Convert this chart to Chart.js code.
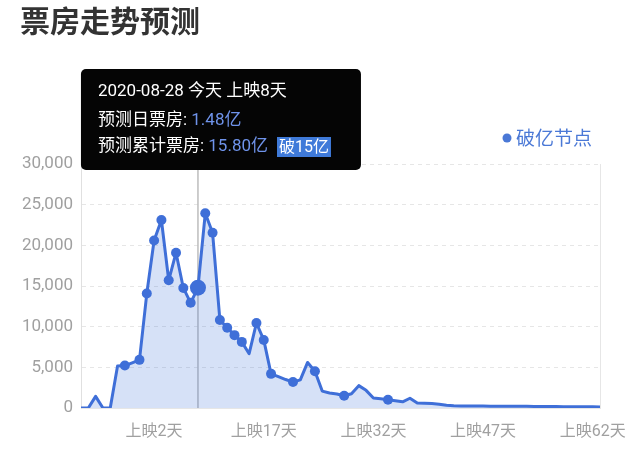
<!DOCTYPE html>
<html><head><meta charset="utf-8">
<script src="https://cdn.jsdelivr.net/npm/chart.js@4.4.1/dist/chart.umd.min.js"></script>
<style>html,body{margin:0;padding:0;background:#fff}#wrap{width:640px;height:449px;position:relative}</style>
</head><body><div id="wrap"><canvas id="c" width="640" height="449"></canvas></div>
<script>
// ---- data ----
const chartTitle = '票房走势预测';
const legendLabel = '破亿节点';
const startDate = '2020-08-12';
const preReleaseDays = 9;
const boxOffice = [
  0, 0, 1430, 0, 0, 5150, 5220, 5560, 5920, 14070,
  20600, 23120, 15700, 19090, 14760, 12930, 14800, 23940, 21540, 10820,
  9860, 8960, 8130, 6680, 10450, 8370, 4200, 3850, 3500, 3190,
  3460, 5600, 4520, 2080, 1840, 1720, 1510, 1760, 2750, 2170,
  1230, 1130, 1020, 880, 760, 1200, 610, 590, 540, 470,
  330, 280, 260, 250, 240, 240, 230, 220, 220, 210,
  200, 200, 190, 180, 180, 170, 160, 160, 150, 150,
  140, 130
];
const milestoneIdx = [6, 8, 9, 10, 11, 12, 13, 14, 15, 16, 17, 18, 19, 20, 21, 22, 24, 25, 26, 29, 32, 36, 42];
const todayIdx = 16;
const yTickValues = [0, 5000, 10000, 15000, 20000, 25000, 30000];
const xTickLabels = ['上映2天', '上映17天', '上映32天', '上映47天', '上映62天'];
const tipDate = '2020-08-28';
const tipToday = '今天';
const tipDaily = '1.48亿';
const tipTotal = '15.80亿';
const tipBadge = '破15亿';

// categories: preview dates, then 上映N天
const categories = [];
{
  const d0 = new Date(startDate + 'T00:00:00Z');
  for (let i = 0; i < boxOffice.length; i++) {
    if (i < preReleaseDays) {
      const d = new Date(d0.getTime() + i * 86400000);
      categories.push(d.toISOString().slice(5, 10));
    } else {
      categories.push('上映' + (i - preReleaseDays + 1) + '天');
    }
  }
}

const LINE = '#3f6fd8';
const FAM = "Roboto, 'Noto Sans CJK SC', sans-serif";
const CJK = "'Noto Sans CJK SC', Roboto, sans-serif";
Chart.defaults.font.family = FAM;

const radii = boxOffice.map((v, i) => i === todayIdx ? 8 : (milestoneIdx.includes(i) ? 5 : 0));

const overlay = {
  id: 'overlay',
  beforeDatasetsDraw(chart) {
    const ctx = chart.ctx, ca = chart.chartArea;
    const x = chart.scales.x.getPixelForValue(todayIdx);
    ctx.save();
    ctx.strokeStyle = '#bdbdbd';
    ctx.lineWidth = 1.5;
    ctx.beginPath(); ctx.moveTo(x, 170); ctx.lineTo(x, ca.bottom); ctx.stroke();
    ctx.strokeStyle = '#e6e6e6'; ctx.lineWidth = 1;
    ctx.beginPath(); ctx.moveTo(ca.right + 0.5, ca.top); ctx.lineTo(ca.right + 0.5, ca.bottom); ctx.stroke();
    ctx.restore();
  },
  afterDraw(chart) {
    const ctx = chart.ctx;
    ctx.save();
    // title
    ctx.fillStyle = '#333';
    ctx.font = "bold 30px " + CJK;
    ctx.textBaseline = 'middle';
    ctx.textAlign = 'left';
    ctx.fillText(chartTitle, 20, 21);
    // legend
    ctx.fillStyle = '#4a78d6';
    ctx.beginPath(); ctx.arc(507, 138, 4.5, 0, Math.PI * 2); ctx.fill();
    ctx.font = "19px " + CJK;
    ctx.fillText(legendLabel, 516, 138);
    // tooltip
    const px = chart.scales.x.getPixelForValue(todayIdx);
    const bx = px - 117, by = 69, bw = 280, bh = 101;
    ctx.fillStyle = '#050505';
    ctx.beginPath();
    if (ctx.roundRect) ctx.roundRect(bx, by, bw, bh, 5); else ctx.rect(bx, by, bw, bh);
    ctx.fill();
    const tx = bx + 17;
    ctx.font = "17px " + FAM;
    ctx.fillStyle = '#ffffff';
    ctx.fillText(tipDate + ' ' + tipToday + ' ' + categories[todayIdx], tx, 92);
    let s = '预测日票房: ';
    ctx.fillText(s, tx, 121);
    ctx.fillStyle = '#6f93ea';
    ctx.fillText(tipDaily, tx + ctx.measureText(s).width, 121);
    ctx.fillStyle = '#ffffff';
    s = '预测累计票房: ';
    ctx.fillText(s, tx, 147);
    let w = ctx.measureText(s).width;
    ctx.fillStyle = '#6f93ea';
    ctx.fillText(tipTotal, tx + w, 147);
    w += ctx.measureText(tipTotal).width + 9;
    ctx.font = "16px " + FAM;
    const bw2 = ctx.measureText(tipBadge).width + 4;
    ctx.fillStyle = '#3f7ad9';
    ctx.fillRect(tx + w, 137, bw2, 20);
    ctx.fillStyle = '#ffffff';
    ctx.fillText(tipBadge, tx + w + 2, 147.5);
    ctx.restore();
  }
};

new Chart(document.getElementById('c'), {
  type: 'line',
  data: {
    labels: categories,
    datasets: [{
      data: boxOffice,
      borderColor: LINE,
      borderWidth: 3,
      backgroundColor: 'rgba(63,111,216,0.21)',
      fill: 'origin',
      tension: 0,
      pointRadius: radii,
      pointHoverRadius: radii,
      pointBackgroundColor: LINE,
      pointBorderWidth: 0,
      borderJoinStyle: 'round'
    }]
  },
  options: {
    responsive: false,
    animation: false,
    events: [],
    layout: { padding: { top: 164, right: 40, left: 0, bottom: 0 } },
    plugins: { legend: { display: false }, tooltip: { enabled: false }, title: { display: false } },
    scales: {
      x: {
        type: 'category',
        offset: false,
        grid: { display: false, drawTicks: false },
        border: { display: true, color: '#e6e6e6' },
        ticks: {
          autoSkip: false, maxRotation: 0, minRotation: 0,
          color: '#a0a0a0', font: { size: 16, family: FAM }, padding: 14,
          callback: (v, i) => xTickLabels.includes(categories[i]) ? categories[i] : ''
        },
        afterFit: (s) => { s.height = 41; }
      },
      y: {
        min: 0, max: 30000,
        afterBuildTicks: (s) => { s.ticks = yTickValues.map(v => ({ value: v })); },
        grid: { color: '#e6e6e6', drawTicks: false },
        border: { display: true, color: '#e0e0e0', dash: [4, 4] },
        ticks: {
          color: '#a0a0a0', font: { size: 17, family: FAM }, padding: 8,
          callback: (v) => String(v).replace(/\B(?=(\d{3})+(?!\d))/g, ',')
        },
        afterFit: (s) => { s.width = 81; }
      }
    }
  },
  plugins: [overlay]
});
</script>
</body></html>
